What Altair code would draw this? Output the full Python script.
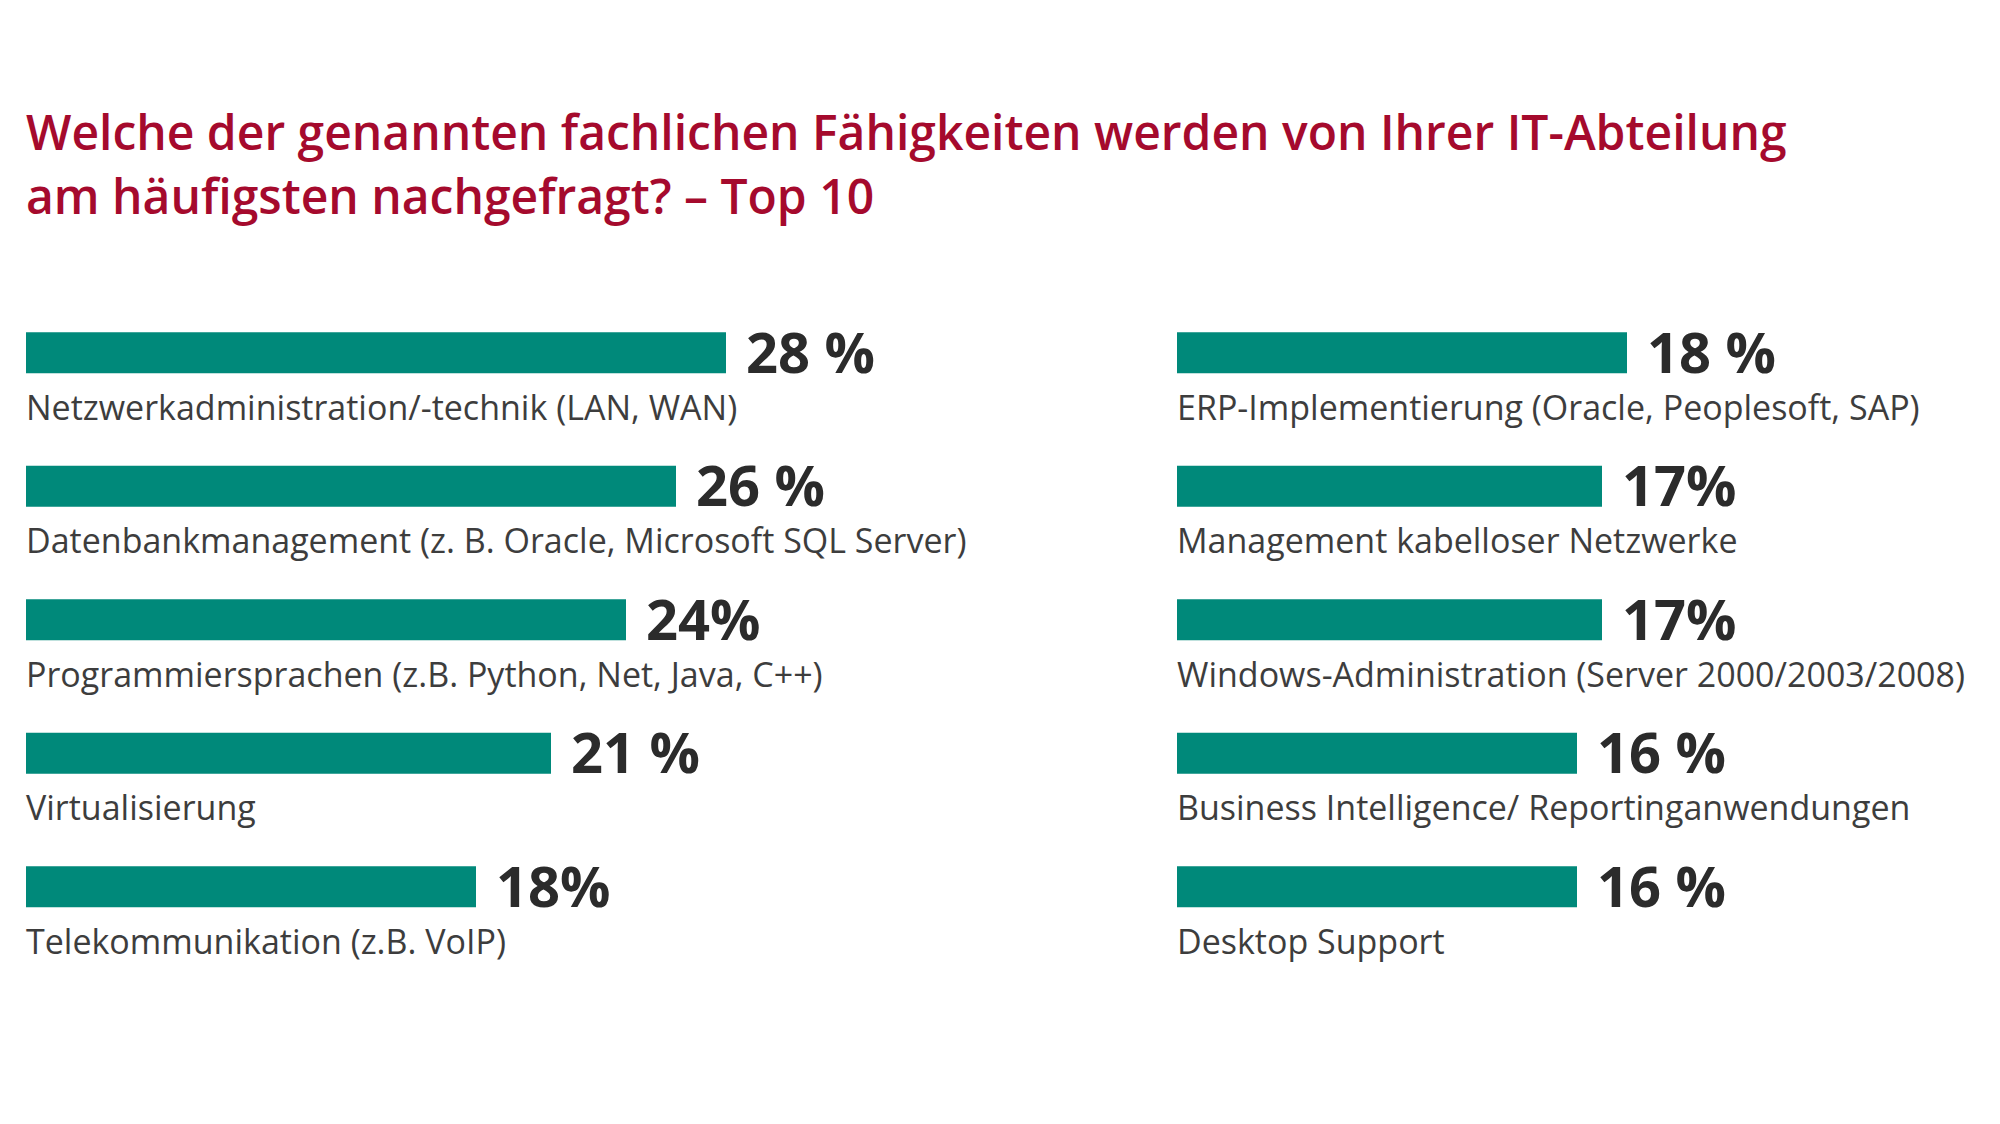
import altair as alt
import pandas as pd

# Survey question (two-line title)
title_lines = [
    "Welche der genannten fachlichen Fähigkeiten werden von Ihrer IT-Abteilung",
    "am häufigsten nachgefragt? – Top 10",
]

# Left column: top 5
left_skills = [
    "Netzwerkadministration/-technik (LAN, WAN)",
    "Datenbankmanagement (z. B. Oracle, Microsoft SQL Server)",
    "Programmiersprachen (z.B. Python, Net, Java, C++)",
    "Virtualisierung",
    "Telekommunikation (z.B. VoIP)",
]
left_values = [28, 26, 24, 21, 18]
left_value_labels = ["28 %", "26 %", "24%", "21 %", "18%"]

# Right column: places 6-10
right_skills = [
    "ERP-Implementierung (Oracle, Peoplesoft, SAP)",
    "Management kabelloser Netzwerke",
    "Windows-Administration (Server 2000/2003/2008)",
    "Business Intelligence/ Reportinganwendungen",
    "Desktop Support",
]
right_values = [18, 17, 17, 16, 16]
right_value_labels = ["18 %", "17%", "17%", "16 %", "16 %"]

TEAL = "#00897a"
RED = "#a50a2d"
DARK = "#2b2b2b"
LABEL = "#3d3d3d"
FONT = "Open Sans"

PX_PER_PCT = 25      # shared bar scale for both columns
ROW_STEP = 133.5
BAR_H = 41


def panel(skills, values, value_labels, width):
    df = pd.DataFrame({
        "rank": list(range(len(skills))),
        "skill": skills,
        "value": values,
        "label": value_labels,
        "zero": [0] * len(skills),
    })
    xscale = alt.Scale(domain=[0, width / PX_PER_PCT], nice=False, zero=True)
    y = alt.Y("rank:O", scale=alt.Scale(paddingInner=0, paddingOuter=0), axis=None)
    base = alt.Chart(df).encode(y=y)

    bars = base.mark_bar(color=TEAL, height=BAR_H).encode(
        x=alt.X("value:Q", scale=xscale, axis=None))
    pct = base.mark_text(
        align="left", baseline="alphabetic", dx=20, dy=20,
        font=FONT, fontSize=56, fontWeight="bold", color=DARK,
    ).encode(x=alt.X("value:Q", scale=xscale, axis=None), text="label:N")
    names = base.mark_text(
        align="left", baseline="alphabetic", dy=67,
        font=FONT, fontSize=34, color=LABEL,
    ).encode(x=alt.X("zero:Q", scale=xscale, axis=None), text="skill:N")

    return alt.layer(bars, pct, names).properties(width=width, height=ROW_STEP * len(skills))


left = panel(left_skills, left_values, left_value_labels, 1151)
right = panel(right_skills, right_values, right_value_labels, 820)

chart = alt.hconcat(left, right, spacing=0, bounds="flush").properties(
    title=alt.TitleParams(
        text=title_lines, anchor="start", font=FONT, fontSize=48, fontWeight=600,
        color=RED, lineHeight=64, baseline="top", offset=62,
    ),
    padding={"left": 26, "top": 112, "right": 0, "bottom": 80},
    background="white",
).configure_view(stroke=None)

chart.save("out.html", embed_options={"renderer": "svg", "actions": False})
